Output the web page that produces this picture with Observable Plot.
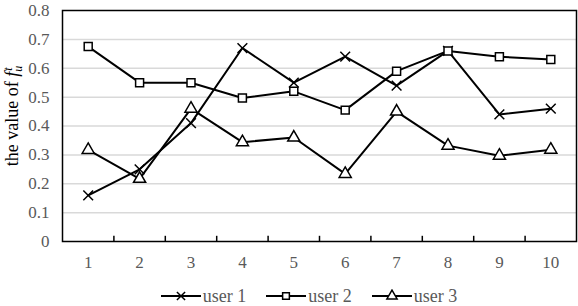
<!DOCTYPE html>
<html><head><meta charset="utf-8">
<script src="https://cdn.jsdelivr.net/npm/d3@7"></script>
<script src="https://cdn.jsdelivr.net/npm/@observablehq/plot@0.6"></script>
<style>
body{margin:0;background:#fff;font-family:"Liberation Serif",serif}
#legend{display:flex;justify-content:center;align-items:center;padding-left:40px;gap:20px;margin-top:10px;color:#595959;font-size:18px;line-height:20px}
.item{display:flex;align-items:center;gap:2px}
</style>
</head><body><div id="chart"></div><div id="legend"></div>
<script>
const rounds = [1, 2, 3, 4, 5, 6, 7, 8, 9, 10];
const user1 = [0.16, 0.25, 0.41, 0.67, 0.55, 0.64, 0.54, 0.66, 0.44, 0.46];
const user2 = [0.675, 0.55, 0.55, 0.497, 0.52, 0.455, 0.59, 0.66, 0.64, 0.63];
const user3 = [0.317, 0.217, 0.46, 0.344, 0.36, 0.234, 0.45, 0.332, 0.297, 0.318];
const seriesNames = ["user 1", "user 2", "user 3"];
const seriesSymbols = ["times", "square", "triangle"];
const yTicks = [0, 0.1, 0.2, 0.3, 0.4, 0.5, 0.6, 0.7, 0.8];

const seriesValues = [user1, user2, user3];
const data = seriesValues.flatMap((vals, i) => vals.map((v, j) => ({round: rounds[j], value: v, series: seriesNames[i], symbol: seriesSymbols[i]})));
const boundaries = rounds.slice(0, -1).map(r => r + 0.5);

const plot = Plot.plot({
  width: 578, height: 276,
  marginLeft: 62, marginRight: 2, marginTop: 10, marginBottom: 35,
  style: {fontFamily: "Liberation Serif, serif", color: "#595959", background: "#fff", overflow: "visible"},
  x: {domain: [0.5, 10.5]},
  y: {domain: [0, 0.8]},
  marks: [
    Plot.gridY(yTicks.slice(1, -1), {stroke: "#d9d9d9", strokeOpacity: 1, strokeWidth: 1.5}),
    Plot.axisY(yTicks, {tickSize: 0, tickPadding: 13, label: null, fontSize: 17, tickFormat: d => d === 0 ? "0" : d.toFixed(1)}),
    Plot.axisX(rounds, {tickSize: 0, tickPadding: 14, label: null, fontSize: 17}),
    Plot.ruleX(boundaries, {y1: 0, y2: 0.018, stroke: "#000", strokeWidth: 1.5}),
    Plot.line(data, {x: "round", y: "value", z: "series", stroke: "#000", strokeWidth: 2}),
    Plot.dot(data, {x: "round", y: "value", symbol: "symbol", r: 4.5, stroke: "#000", strokeWidth: 1.5, fill: "#fff"}),
    Plot.frame({stroke: "#000", strokeWidth: 1.5})
  ]
});
document.getElementById("chart").appendChild(plot);

// y label with math notation
const svg = d3.select(plot);
const t = svg.append("text")
  .attr("transform", "translate(18,116) rotate(-90)")
  .attr("text-anchor", "middle")
  .attr("fill", "#000")
  .attr("font-size", 18)
  .attr("font-family", "Liberation Serif, serif");
t.append("tspan").text("the value of ");
t.append("tspan").attr("font-style", "italic").text("f");
t.append("tspan").attr("font-style", "italic").attr("font-size", 12).attr("dy", 4).text("u");
t.append("tspan").attr("font-style", "italic").attr("font-size", 12).attr("dx", -5).attr("dy", -10).text("t");

// legend
const legend = d3.select("#legend");
const sym = {times: d3.symbolTimes, square: d3.symbolSquare, triangle: d3.symbolTriangle};
seriesNames.forEach((name, i) => {
  const item = legend.append("div").attr("class", "item");
  const s = item.append("svg").attr("width", 40).attr("height", 14);
  s.append("line").attr("x1", 0).attr("x2", 40).attr("y1", 7).attr("y2", 7).attr("stroke", "#000").attr("stroke-width", 2);
  s.append("path").attr("transform", "translate(20,7)")
    .attr("d", d3.symbol(sym[seriesSymbols[i]], 3.8 * 3.8 * Math.PI)())
    .attr("fill", "#fff").attr("stroke", "#000").attr("stroke-width", 1.5);
  item.append("span").text(name);
});
</script>
</body></html>
